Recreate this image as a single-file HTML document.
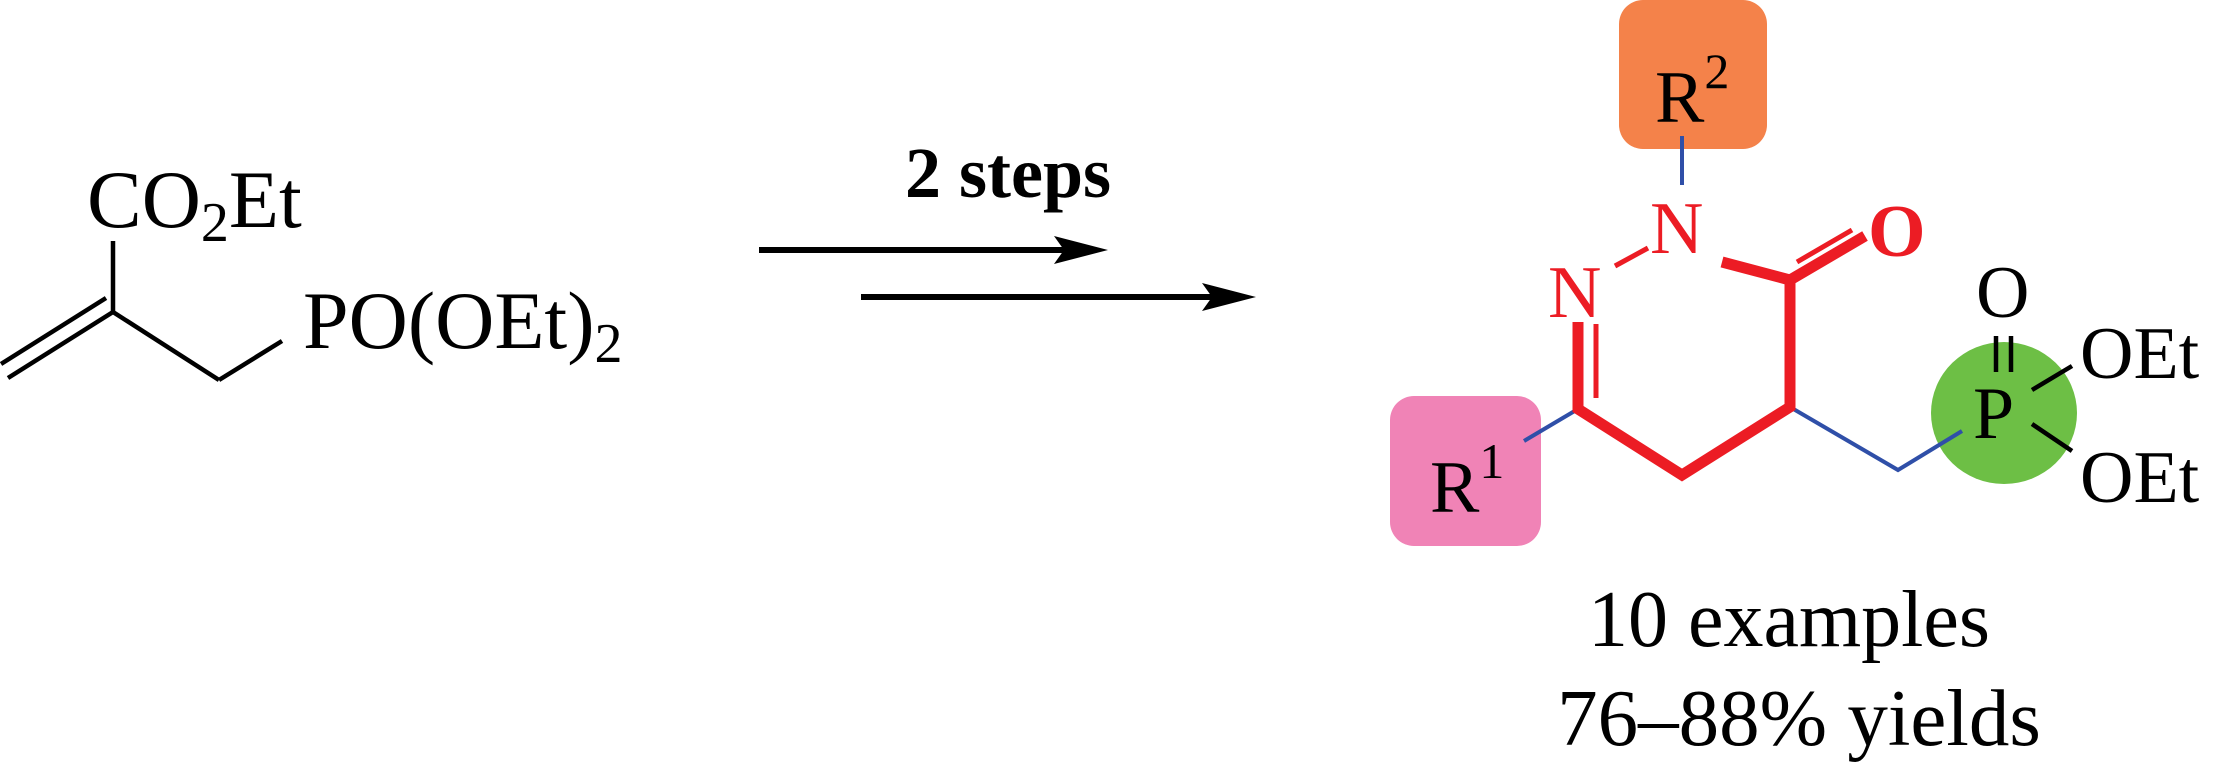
<!DOCTYPE html>
<html><head><meta charset="utf-8"><style>html,body{margin:0;padding:0;background:#fff}svg{display:block}</style></head>
<body>
<svg width="2213" height="764" viewBox="0 0 2213 764" xmlns="http://www.w3.org/2000/svg" font-family="Liberation Serif, serif">
<rect width="2213" height="764" fill="#fff"/>
<!-- reactant -->
<g stroke="#000" stroke-width="4.5" fill="none" stroke-linecap="butt">
<line x1="113" y1="241" x2="113" y2="312"/>
<line x1="113" y1="312" x2="8" y2="378"/>
<line x1="106" y1="298" x2="1" y2="364"/>
<line x1="113" y1="312" x2="219" y2="380"/>
<line x1="219" y1="380" x2="282" y2="341"/>
</g>
<text x="87" y="227" font-size="82">CO<tspan font-size="56" dy="14">2</tspan><tspan dy="-14">Et</tspan></text>
<text x="303" y="348" font-size="82">PO(OEt)<tspan font-size="56" dy="14">2</tspan></text>
<!-- arrows -->
<text x="905" y="197" font-size="72" font-weight="bold">2 steps</text>
<line x1="759" y1="250" x2="1070" y2="250" stroke="#000" stroke-width="6"/>
<polygon points="1108,250 1054,236 1064,250 1054,264" fill="#000"/>
<line x1="861" y1="297" x2="1220" y2="297" stroke="#000" stroke-width="6"/>
<polygon points="1256,297 1202,283 1212,297 1202,311" fill="#000"/>
<!-- product boxes -->
<rect x="1619" y="0" width="148" height="149" rx="24" fill="#f4824a"/>
<rect x="1390" y="396" width="151" height="150" rx="24" fill="#f083b6"/>
<ellipse cx="2004" cy="413" rx="73" ry="71" fill="#6dbf45"/>
<text x="1655" y="122" font-size="74">R<tspan font-size="50" dy="-34">2</tspan></text>
<text x="1430" y="512" font-size="74">R<tspan font-size="50" dy="-34">1</tspan></text>
<!-- blue bonds -->
<g stroke="#2f4fa8" stroke-width="4" fill="none">
<line x1="1682" y1="136" x2="1682" y2="185"/>
<line x1="1578" y1="409" x2="1524" y2="441"/>
<polyline points="1790,407 1898,470 1962,431"/>
</g>
<!-- red ring -->
<g stroke="#ec1c24" fill="none">
<polyline points="1722,262 1790,280 1790,407 1682,475 1578,409 1578,322" stroke-width="11" stroke-linejoin="miter"/>
<line x1="1596" y1="324" x2="1596" y2="398" stroke-width="5"/>
<line x1="1790" y1="280" x2="1865" y2="236" stroke-width="11"/>
<line x1="1797" y1="262" x2="1852" y2="230" stroke-width="5"/>
<line x1="1615" y1="266" x2="1648" y2="248" stroke-width="5"/>
</g>
<g fill="#ec1c24" font-size="74">
<text x="1650" y="253">N</text>
<text x="1548" y="317">N</text>
<text x="1868" y="256" font-weight="bold">O</text>
</g>
<!-- phosphonate -->
<text x="1973" y="438" font-size="74">P</text>
<text x="1976" y="317" font-size="74">O</text>
<g stroke="#000" stroke-width="4.5">
<line x1="1996" y1="336" x2="1996" y2="372"/>
<line x1="2011" y1="336" x2="2011" y2="372"/>
<line x1="2032" y1="390" x2="2072" y2="366"/>
<line x1="2032" y1="424" x2="2072" y2="451"/>
</g>
<text x="2080" y="378" font-size="74">OEt</text>
<text x="2080" y="502" font-size="74">OEt</text>
<text x="1789" y="646" font-size="80" text-anchor="middle">10 examples</text>
<text x="1799" y="745" font-size="81" text-anchor="middle">76–88% yields</text>
</svg>
</body></html>
